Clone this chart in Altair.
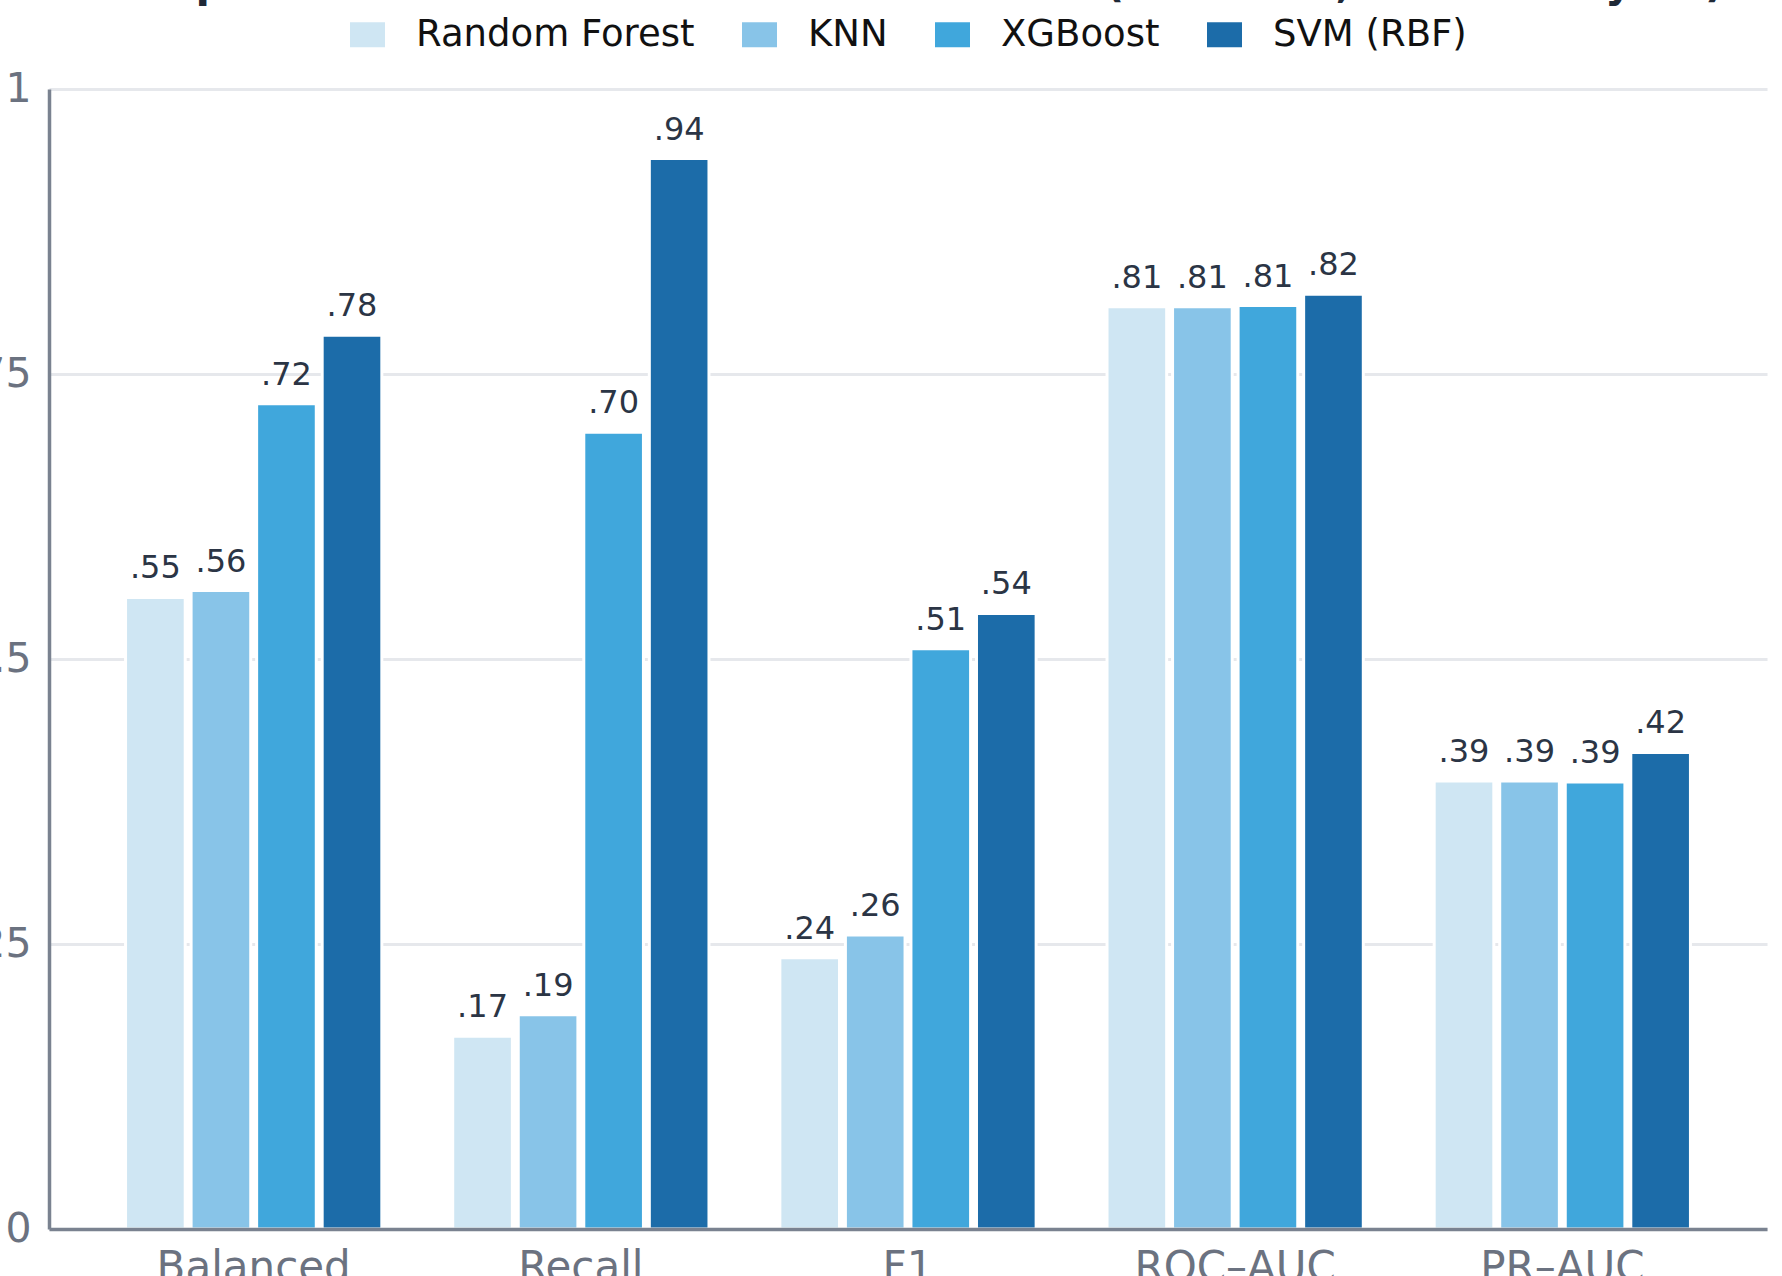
import altair as alt
import pandas as pd

metrics = ["Balanced Accuracy", "Recall", "F1", "ROC–AUC", "PR–AUC"]
models = ["Random Forest", "KNN", "XGBoost", "SVM (RBF)"]
rf_vals = [0.554, 0.169, 0.238, 0.809, 0.393]
knn_vals = [0.560, 0.188, 0.258, 0.809, 0.393]
xgb_vals = [0.724, 0.699, 0.509, 0.810, 0.392]
svm_vals = [0.784, 0.939, 0.540, 0.820, 0.418]
colors = ["#cfe6f3", "#88c4e8", "#40a7dc", "#1c6ca9"]
y_ticks = [0, 0.25, 0.5, 0.75, 1]
title_text = "Comparison of Test Metrics Across Models (Held-Out, Ordered by F1)"

rows = []
for model, vals in zip(models, [rf_vals, knn_vals, xgb_vals, svm_vals]):
    for m, v in zip(metrics, vals):
        rows.append({"metric": m, "model": model, "value": v,
                     "label": f"{v:.2f}".lstrip("0")})
df = pd.DataFrame(rows)

FONT = "DejaVu Sans"

base = alt.Chart(df).encode(
    x=alt.X(
        "metric:N", sort=metrics,
        scale=alt.Scale(paddingInner=0.2167, paddingOuter=0.234),
        axis=alt.Axis(
            title=None, labelAngle=0, grid=False, ticks=False, tickSize=0,
            labelPadding=18, labelFontSize=42, labelFont=FONT, labelLimit=0,
            labelColor="#6b7280", domainColor="#7a8290", domainWidth=3.5,
            zindex=1,
            labelExpr="datum.label == 'Balanced Accuracy' ? ['Balanced', 'Accuracy'] : datum.label",
        ),
    ),
    xOffset=alt.XOffset("model:N", sort=models,
                        scale=alt.Scale(paddingInner=0.09, paddingOuter=0)),
    y=alt.Y(
        "value:Q",
        scale=alt.Scale(domain=[0, 1], nice=False, zero=True),
        axis=alt.Axis(
            title=None, values=y_ticks, grid=True, gridColor="#e6e8ec",
            gridWidth=3, ticks=False, tickSize=0, labelPadding=18,
            labelFontSize=41, labelFont=FONT, labelColor="#6b7280",
            labelLimit=0, domainColor="#7a8290", domainWidth=3.5, zindex=0,
            labelExpr="datum.value == 0 ? '0' : datum.value == 1 ? '1' : replace(format(datum.value, '.2~f'), '0.', '.')",
        ),
    ),
)

bars = base.mark_bar(stroke="white", strokeWidth=3).encode(
    color=alt.Color(
        "model:N", sort=models,
        scale=alt.Scale(domain=models, range=colors),
        legend=alt.Legend(
            title=None, orient="none", direction="horizontal",
            legendX=300, legendY=-73, padding=0,
            symbolType="M-1,-0.714H1V0.714H-1Z", symbolSize=1225,
            symbolStrokeWidth=0, labelFontSize=37, labelFont=FONT,
            labelLimit=0, labelColor="#111111", labelOffset=30,
            columnPadding=46,
        ),
    ),
)

text = base.mark_text(
    baseline="alphabetic", dy=-19, fontSize=32, font=FONT, color="#2b3545"
).encode(text="label:N")

chart = alt.layer(bars, text).properties(
    width=1718, height=1140,
    autosize=alt.AutoSizeParams(type="none"),
    padding={"left": 49, "top": 89, "right": 15, "bottom": 47},
    title=alt.Title(title_text, fontSize=42, font=FONT, fontWeight="bold",
                    color="#1f2937", anchor="middle", frame="group", offset=10),
).configure_view(stroke=None)

chart.save("out.html", embed_options={"renderer": "svg", "actions": False})
